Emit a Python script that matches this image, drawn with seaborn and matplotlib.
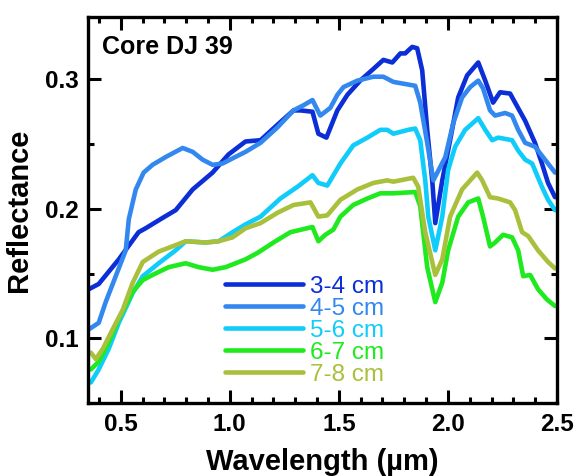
import numpy as np
import pandas as pd
import matplotlib
matplotlib.use("Agg")
import matplotlib.pyplot as plt
import seaborn as sns
from matplotlib.ticker import MultipleLocator

# ---- data ----
wl_34 = [0.354, 0.399, 0.491, 0.582, 0.614, 0.692, 0.752, 0.830, 0.921, 0.994, 1.072, 1.141, 1.219, 1.292, 1.324,
         1.379, 1.406, 1.443, 1.493, 1.539, 1.598, 1.658, 1.704, 1.745, 1.782, 1.804, 1.836, 1.859, 1.882, 1.905,
         1.928, 1.942, 1.974, 2.010, 2.047, 2.088, 2.139, 2.171, 2.207, 2.239, 2.285, 2.308, 2.354, 2.399, 2.431,
         2.459, 2.491]
r_34 = [0.138, 0.142, 0.161, 0.182, 0.185, 0.193, 0.199, 0.215, 0.228, 0.242, 0.252, 0.253, 0.265, 0.276, 0.276,
        0.275, 0.258, 0.255, 0.276, 0.288, 0.299, 0.308, 0.315, 0.313, 0.320, 0.320, 0.325, 0.324, 0.307, 0.261,
        0.222, 0.189, 0.222, 0.253, 0.286, 0.303, 0.313, 0.299, 0.282, 0.290, 0.289, 0.282, 0.268, 0.251, 0.235,
        0.220, 0.209]

wl_45 = [0.354, 0.399, 0.431, 0.477, 0.523, 0.537, 0.569, 0.605, 0.646, 0.706, 0.784, 0.830, 0.875, 0.921, 0.967,
         1.013, 1.072, 1.141, 1.219, 1.292, 1.338, 1.379, 1.415, 1.461, 1.493, 1.521, 1.585, 1.658, 1.704, 1.750,
         1.850, 1.873, 1.905, 1.933, 1.988, 2.024, 2.065, 2.102, 2.139, 2.161, 2.193, 2.216, 2.262, 2.294, 2.322,
         2.354, 2.399, 2.445, 2.491]
r_45 = [0.107, 0.112, 0.128, 0.148, 0.168, 0.192, 0.215, 0.228, 0.234, 0.240, 0.247, 0.244, 0.238, 0.234, 0.235,
        0.239, 0.244, 0.251, 0.263, 0.276, 0.280, 0.284, 0.272, 0.278, 0.288, 0.294, 0.299, 0.302, 0.302, 0.298,
        0.295, 0.282, 0.251, 0.222, 0.240, 0.266, 0.286, 0.294, 0.299, 0.293, 0.276, 0.272, 0.274, 0.272, 0.261,
        0.251, 0.248, 0.238, 0.228]

wl_56 = [0.363, 0.399, 0.445, 0.491, 0.555, 0.601, 0.674, 0.752, 0.798, 0.889, 0.949, 1.013, 1.072, 1.141, 1.232,
         1.310, 1.379, 1.406, 1.447, 1.507, 1.566, 1.631, 1.690, 1.722, 1.750, 1.818, 1.850, 1.873, 1.896, 1.910,
         1.942, 1.974, 2.001, 2.033, 2.079, 2.139, 2.171, 2.203, 2.230, 2.294, 2.322, 2.354, 2.386, 2.431, 2.459,
         2.491]
r_56 = [0.066, 0.076, 0.092, 0.112, 0.135, 0.148, 0.158, 0.168, 0.175, 0.174, 0.175, 0.182, 0.188, 0.194, 0.208,
        0.217, 0.226, 0.220, 0.218, 0.235, 0.249, 0.255, 0.261, 0.261, 0.258, 0.261, 0.262, 0.253, 0.222, 0.194,
        0.168, 0.194, 0.230, 0.248, 0.261, 0.270, 0.261, 0.253, 0.255, 0.253, 0.245, 0.238, 0.235, 0.217, 0.207,
        0.199]

wl_67 = [0.363, 0.399, 0.445, 0.491, 0.555, 0.601, 0.646, 0.720, 0.798, 0.857, 0.921, 0.981, 1.072, 1.127, 1.200,
         1.278, 1.379, 1.406, 1.438, 1.475, 1.507, 1.566, 1.631, 1.690, 1.750, 1.850, 1.873, 1.905, 1.942, 1.974,
         2.001, 2.047, 2.093, 2.139, 2.161, 2.193, 2.216, 2.253, 2.294, 2.322, 2.345, 2.377, 2.413, 2.454, 2.491]
r_67 = [0.076, 0.082, 0.097, 0.115, 0.136, 0.145, 0.149, 0.155, 0.158, 0.155, 0.153, 0.155, 0.161, 0.166, 0.174,
        0.182, 0.186, 0.175, 0.180, 0.184, 0.194, 0.203, 0.208, 0.212, 0.212, 0.213, 0.202, 0.155, 0.128, 0.143,
        0.168, 0.194, 0.205, 0.208, 0.194, 0.171, 0.174, 0.180, 0.178, 0.168, 0.148, 0.149, 0.138, 0.130, 0.125]

wl_78 = [0.363, 0.386, 0.418, 0.463, 0.509, 0.555, 0.601, 0.674, 0.752, 0.798, 0.889, 0.949, 1.013, 1.072, 1.141,
         1.219, 1.292, 1.370, 1.406, 1.447, 1.507, 1.585, 1.658, 1.722, 1.750, 1.841, 1.864, 1.896, 1.942, 1.974,
         2.010, 2.065, 2.134, 2.157, 2.193, 2.230, 2.285, 2.308, 2.340, 2.368, 2.413, 2.459, 2.491]
r_78 = [0.089, 0.084, 0.092, 0.107, 0.122, 0.143, 0.159, 0.167, 0.172, 0.175, 0.174, 0.175, 0.178, 0.185, 0.189,
        0.197, 0.203, 0.205, 0.194, 0.195, 0.207, 0.215, 0.220, 0.222, 0.221, 0.224, 0.217, 0.182, 0.149, 0.161,
        0.194, 0.215, 0.228, 0.222, 0.209, 0.208, 0.205, 0.199, 0.182, 0.179, 0.168, 0.159, 0.154]

depths = ["3-4 cm", "4-5 cm", "5-6 cm", "6-7 cm", "7-8 cm"]
colors = ["#0B2ED6", "#3388F0", "#10CCFA", "#1EEA1E", "#A9C03C"]

series = [(wl_34, r_34), (wl_45, r_45), (wl_56, r_56), (wl_67, r_67), (wl_78, r_78)]
frames = []
for name, (w, r) in zip(depths, series):
    frames.append(pd.DataFrame({"Wavelength": w, "Reflectance": r, "Depth": name}))
df = pd.concat(frames, ignore_index=True)

# ---- plotting ----
sns.set_style("ticks")
plt.rcParams["font.family"] = ["Liberation Sans", "DejaVu Sans"]
plt.rcParams["text.color"] = "black"
plt.rcParams["axes.labelcolor"] = "black"
plt.rcParams["xtick.color"] = "black"
plt.rcParams["ytick.color"] = "black"
plt.rcParams["lines.solid_joinstyle"] = "round"
plt.rcParams["lines.solid_capstyle"] = "round"

fig = plt.figure(figsize=(5.79, 4.76), dpi=100)
ax = fig.add_axes([0.152, 0.153, 0.81, 0.811])

sns.lineplot(data=df, x="Wavelength", y="Reflectance", hue="Depth", hue_order=depths,
             palette=dict(zip(depths, colors)), estimator=None, sort=False,
             linewidth=3.3, ax=ax)
for ln in ax.get_lines():
    ln.set_solid_joinstyle("round")

ax.set_xlim(0.35, 2.5)
ax.set_ylim(0.05, 0.348)
ax.xaxis.set_major_locator(MultipleLocator(0.5))
ax.xaxis.set_minor_locator(MultipleLocator(0.1))
ax.yaxis.set_major_locator(MultipleLocator(0.1))
ax.yaxis.set_minor_locator(MultipleLocator(0.05))
ax.xaxis.set_major_formatter(matplotlib.ticker.FormatStrFormatter("%.1f"))
ax.yaxis.set_major_formatter(matplotlib.ticker.FormatStrFormatter("%.1f"))

ax.tick_params(which="both", direction="in", top=True, right=True, width=2.2, color="black",
               labelcolor="black")
ax.tick_params(which="major", length=9.5, labelsize=17.5, pad=7)
ax.tick_params(which="minor", length=4.5)
for lab in ax.get_xticklabels() + ax.get_yticklabels():
    lab.set_fontweight("bold")
for sp in ax.spines.values():
    sp.set_linewidth(2.4)
    sp.set_color("black")

ax.set_xlabel("Wavelength (µm)", fontsize=21, fontweight="bold", labelpad=9, color="black")
ax.set_ylabel("Reflectance", fontsize=21, fontweight="bold", labelpad=8, color="black")

ax.text(0.03, 0.922, "Core DJ 39", transform=ax.transAxes, fontsize=18, fontweight="bold",
        ha="left", va="center", color="black")

leg = ax.legend(loc="upper left", bbox_to_anchor=(0.292, 0.33), frameon=False, fontsize=17.5,
                handlelength=3.2, handletextpad=0.3, labelspacing=0.0, borderpad=0, borderaxespad=0)
for line in leg.get_lines():
    line.set_linewidth(3.3)
for txt, c in zip(leg.get_texts(), colors):
    txt.set_color(c)

fig.savefig("out.png", dpi=100)
